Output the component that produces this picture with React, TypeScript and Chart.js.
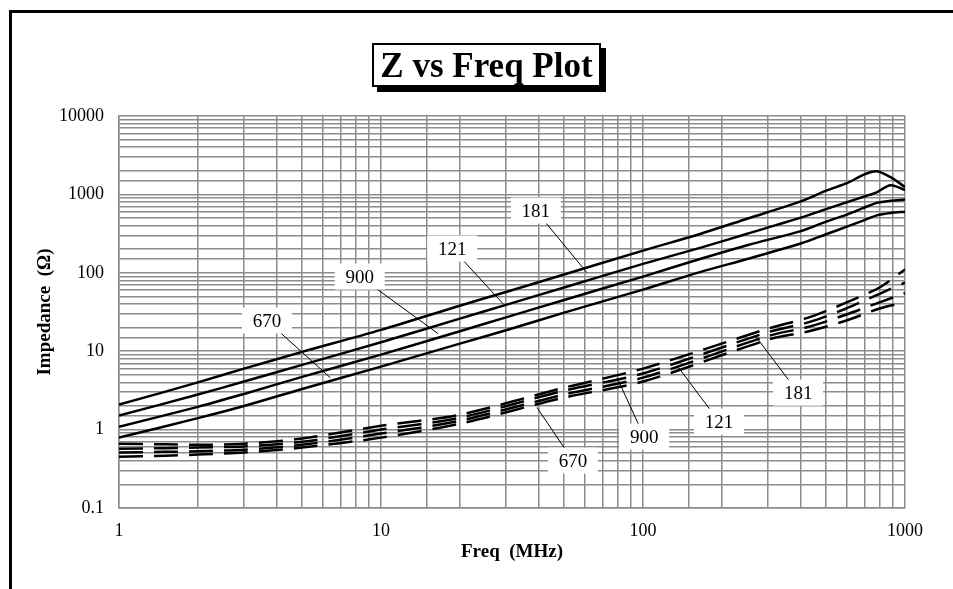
import React, { useEffect, useRef } from "react";
import { Chart, registerables } from "chart.js";

Chart.register(...registerables);

const FONT = "'Liberation Serif', 'Times New Roman', serif";

// Solid curves: impedance |Z| (ohm) vs frequency (MHz)
const solidFreq = [1, 2, 3, 5, 10, 20, 30, 50, 100, 165, 250, 400, 500, 600, 700, 780, 880, 1000];
const solid181 = [2.08, 4.0, 6.0, 9.8, 18.7, 38, 57, 95, 192, 313, 490, 815, 1118, 1390, 1800, 1970, 1660, 1240];
const solid121 = [1.51, 2.8, 4.1, 6.7, 13.0, 26, 39, 65, 130, 208, 315, 505, 650, 793, 940, 1064, 1310, 1140];
const solid900 = [1.09, 1.95, 2.85, 4.7, 9.05, 18, 27, 45, 89.5, 150, 225, 340, 450, 552, 680, 780, 830, 860];
const solid670 = [0.79, 1.4, 2.0, 3.3, 6.36, 12.5, 18.5, 31, 61, 102, 150, 236, 310, 388, 470, 540, 580, 603];

// Dashed curves
const dashedFreq = [1, 1.5, 2, 3, 5, 10, 20, 50, 100, 300, 430, 590, 800, 1000];
const dashed181 = [0.66, 0.65, 0.64, 0.66, 0.77, 1.12, 1.55, 3.43, 6.0, 19.4, 27, 41, 65, 110];
const dashed121 = [0.57, 0.58, 0.59, 0.61, 0.70, 1.0, 1.42, 3.14, 5.2, 17.5, 23.5, 34.5, 54, 75];
const dashed900 = [0.51, 0.52, 0.53, 0.555, 0.64, 0.89, 1.30, 2.8, 4.6, 15.6, 20.5, 29, 42, 55];
const dashed670 = [0.45, 0.465, 0.48, 0.51, 0.59, 0.79, 1.19, 2.56, 4.1, 14.0, 18, 24.3, 35, 42];

const xTickLabels = ["1", "10", "100", "1000"];
const yTickLabels = ["0.1", "1", "10", "100", "1000", "10000"];

// Callout labels: label centre (freq, Z) and the point on the curve they point at
const calloutText = ["181", "121", "900", "670", "181", "121", "900", "670"];
const calloutLabelF = [39, 18.7, 8.3, 3.67, 391, 195, 101, 54];
const calloutLabelZ = [621, 204, 89.5, 24.6, 2.96, 1.265, 0.814, 0.402];
const calloutTargetF = [61, 29.2, 16.5, 6.4, 268, 135, 79.6, 39.4];
const calloutTargetZ = [100.7, 40.5, 16.8, 4.6, 15.8, 6.53, 4.6, 1.91];

const toPoints = (xs: number[], ys: number[]) => xs.map((x, i) => ({ x, y: ys[i] }));

const calloutPlugin = {
  id: "callouts",
  afterDatasetsDraw(chart: any) {
    const { ctx } = chart;
    const xs = chart.scales.x;
    const ys = chart.scales.y;
    ctx.save();
    ctx.strokeStyle = "#000";
    ctx.lineWidth = 1;
    for (let i = 0; i < calloutText.length; i++) {
      const lx = xs.getPixelForValue(calloutLabelF[i]);
      const ly = ys.getPixelForValue(calloutLabelZ[i]);
      const tx = xs.getPixelForValue(calloutTargetF[i]);
      const ty = ys.getPixelForValue(calloutTargetZ[i]);
      ctx.beginPath();
      ctx.moveTo(lx, ly);
      ctx.lineTo(tx, ty);
      ctx.stroke();
    }
    ctx.font = `19px ${FONT}`;
    ctx.textAlign = "center";
    ctx.textBaseline = "middle";
    for (let i = 0; i < calloutText.length; i++) {
      const lx = xs.getPixelForValue(calloutLabelF[i]);
      const ly = ys.getPixelForValue(calloutLabelZ[i]);
      ctx.fillStyle = "#fff";
      ctx.fillRect(lx - 25, ly - 13, 50, 26);
      ctx.fillStyle = "#000";
      ctx.fillText(calloutText[i], lx, ly + 1);
    }
    ctx.restore();
  },
};

const isLabel = (v: number, list: string[]) => list.indexOf(String(v)) >= 0;

export default function App() {
  const ref = useRef<HTMLCanvasElement>(null);

  useEffect(() => {
    const solid = (data: number[]) => ({
      data: toPoints(solidFreq, data),
      borderColor: "#000",
      borderWidth: 2.5,
      pointRadius: 0,
      tension: 0.3,
      fill: false,
    });
    const dashed = (data: number[]) => ({
      data: toPoints(dashedFreq, data),
      borderColor: "#000",
      borderWidth: 2.5,
      borderDash: [24, 11],
      pointRadius: 0,
      tension: 0.3,
      fill: false,
    });
    const gridColor = "#8c8c8c";
    const chart = new Chart(ref.current as HTMLCanvasElement, {
      type: "line",
      data: {
        datasets: [
          solid(solid181),
          solid(solid121),
          solid(solid900),
          solid(solid670),
          dashed(dashed181),
          dashed(dashed121),
          dashed(dashed900),
          dashed(dashed670),
        ] as any,
      },
      options: {
        responsive: false,
        animation: false,
        layout: { padding: { left: 34, right: 48, top: 116, bottom: 26 } },
        plugins: {
          legend: { display: false },
          tooltip: { enabled: false },
          title: { display: false },
        },
        scales: {
          x: {
            type: "logarithmic",
            min: 1,
            max: 1000,
            grid: { color: gridColor, lineWidth: 1.5, drawTicks: false },
            border: { color: gridColor, width: 1.5 },
            ticks: {
              autoSkip: false,
              maxRotation: 0,
              padding: 12,
              color: "#000",
              font: { family: FONT, size: 18 },
              callback: (v: any) => (isLabel(Number(v), xTickLabels) ? String(v) : ""),
            },
            title: {
              display: true,
              text: "Freq  (MHz)",
              color: "#000",
              font: { family: FONT, size: 19, weight: "bold" },
              padding: 0,
            },
            afterFit: (s: any) => {
              s.height = 55;
            },
          },
          y: {
            type: "logarithmic",
            min: 0.1,
            max: 10000,
            grid: { color: gridColor, lineWidth: 1.5, drawTicks: false },
            border: { color: gridColor, width: 1.5 },
            ticks: {
              autoSkip: false,
              padding: 15,
              color: "#000",
              font: { family: FONT, size: 18 },
              callback: (v: any) => (isLabel(Number(v), yTickLabels) ? String(v) : ""),
            },
            title: {
              display: true,
              text: "Impedance  (Ω)",
              color: "#000",
              font: { family: FONT, size: 19, weight: "bold" },
              padding: 0,
            },
            afterFit: (s: any) => {
              s.width = 85;
            },
          },
        },
      } as any,
      plugins: [calloutPlugin],
    });
    return () => chart.destroy();
  }, []);

  return (
    <div
      style={{
        position: "fixed",
        left: 0,
        top: 0,
        width: 953,
        height: 589,
        overflow: "hidden",
        background: "#fff",
      }}
    >
      <div
        style={{
          position: "absolute",
          left: 9,
          top: 10,
          width: 1000,
          height: 700,
          borderTop: "3px solid #000",
          borderLeft: "3px solid #000",
        }}
      />
      <canvas
        ref={ref}
        width={953}
        height={589}
        style={{ position: "absolute", left: 0, top: 0, width: 953, height: 589 }}
      />
      <div
        style={{
          position: "absolute",
          left: 372,
          top: 43,
          width: 229,
          height: 44,
          boxSizing: "border-box",
          border: "2px solid #000",
          boxShadow: "5px 5px 0 #000",
          background: "#fff",
          display: "flex",
          alignItems: "center",
          justifyContent: "center",
          fontFamily: FONT,
          fontWeight: "bold",
          fontSize: 35,
          lineHeight: 1,
          color: "#000",
          whiteSpace: "nowrap",
        }}
      >
        Z vs Freq Plot
      </div>
    </div>
  );
}
